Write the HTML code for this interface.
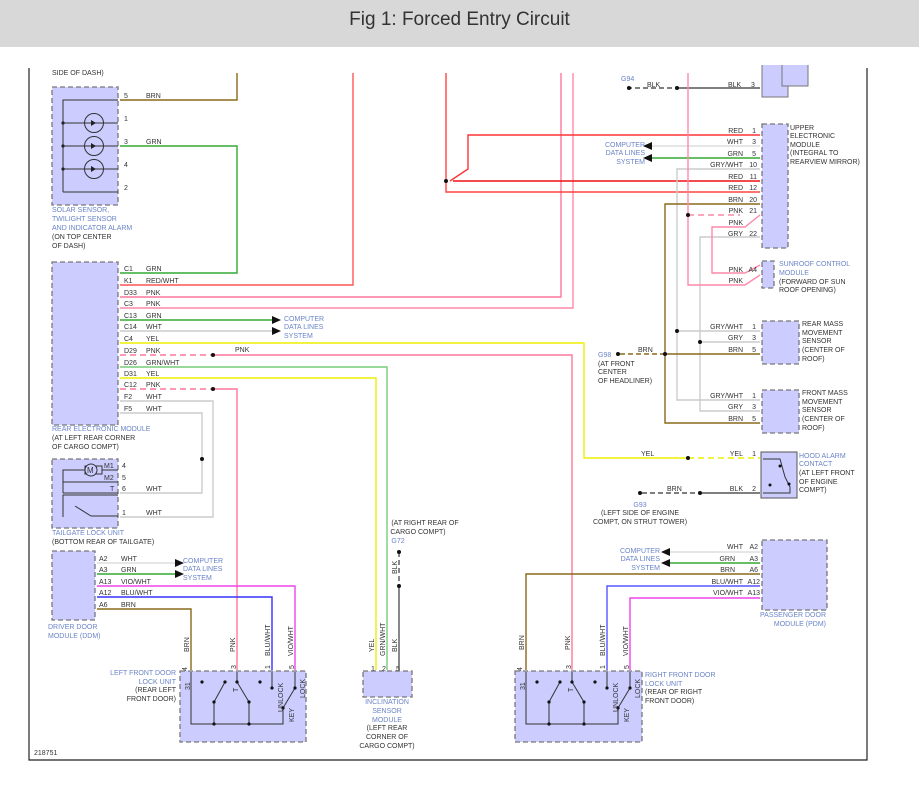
<!DOCTYPE html>
<html><head><meta charset="utf-8"><style>
body{margin:0;background:#fff;width:919px;height:799px;overflow:hidden;font-family:"Liberation Sans",sans-serif}
#hd{position:absolute;left:0;top:0;width:919px;height:47px;background:#d8d8d8;text-align:center;font-size:19px;line-height:40px;color:#333}
svg{position:absolute;left:0;top:0}
text{font-family:"Liberation Sans",sans-serif;font-size:7px;fill:#333}
.b{fill:#6a84c8}
.bx{fill:#ccccff;stroke:#777;stroke-width:1.3;stroke-dasharray:5,3}
</style></head><body>
<div id="hd">Fig 1: Forced Entry Circuit</div>
<svg width="919" height="799" viewBox="0 0 919 799" fill="none">
<!-- frame -->
<path d="M29 68V760H867V68" stroke="#222" stroke-width="1.2"/>
<!-- boxes -->
<rect class="bx" x="52" y="87" width="66" height="118"/>
<rect class="bx" x="52" y="262" width="66" height="163"/>
<rect class="bx" x="52" y="459" width="66" height="69"/>
<rect class="bx" x="52" y="551" width="43" height="69"/>
<rect class="bx" x="180" y="671" width="126" height="71"/>
<rect class="bx" x="363" y="671" width="49" height="26"/>
<rect class="bx" x="515" y="671" width="127" height="71"/>
<rect class="bx" x="762" y="540" width="65" height="70"/>
<rect x="761" y="452" width="36" height="46" fill="#ccccff" stroke="#555" stroke-width="1"/>
<rect class="bx" x="762" y="321" width="37" height="43"/>
<rect class="bx" x="762" y="390" width="37" height="43"/>
<rect class="bx" x="762" y="124" width="26" height="124"/>
<rect class="bx" x="762" y="261" width="12" height="27"/>
<path d="M762 65V97H788V86H808V65" fill="#ccccff" stroke="#777"/>
<path d="M782 65V86H806" stroke="#777"/>

<!-- solar internals -->
<g stroke="#333" stroke-width="1">
<path d="M63 192V100H118M63 123H118M63 146H118M63 169H118M63 192H118"/>
<circle cx="94" cy="123" r="9.5"/><circle cx="94" cy="146" r="9.5"/><circle cx="94" cy="169" r="9.5"/>
</g>
<g fill="#222"><circle cx="63" cy="123" r="1.6"/><circle cx="63" cy="146" r="1.6"/><circle cx="63" cy="169" r="1.6"/>
<path d="M91 120V126L96 123Z M91 143V149L96 146Z M91 166V172L96 169Z"/></g>
<!-- tailgate internals -->
<g stroke="#333" stroke-width="1">
<path d="M63 493V470H85M102 470H118M63 482V482H118M63 482V470"/>
<rect x="85" y="466" width="17" height="8" fill="#ccccff"/>
<circle cx="91" cy="470" r="6" fill="#ccccff"/>
<path d="M63 493H118M63 517V495H118"/>
<path d="M63 505V495M75 506L91 516H118"/>
</g>
<text x="87" y="473" style="font-size:8px">M</text>
<!-- wires solar -->
<g stroke-width="1.4">
<path d="M120 100H237V73" stroke="#8a6a1a"/>
<path d="M120 146H237V273H120" stroke="#3a3"/>
<path d="M120 285H353V73" stroke="#f55"/>
<path d="M120 297H561V73" stroke="#f79"/>
<path d="M120 308H573V73" stroke="#f8a"/>
<path d="M120 320H272" stroke="#3a3"/>
<path d="M120 331H272" stroke="#ccc"/>
<path d="M120 343H584V458H688" stroke="#ee0"/>
<path d="M688 458H760" stroke="#ee0" stroke-dasharray="6,4"/>
<path d="M120 355H213" stroke="#f79" stroke-dasharray="6,4"/>
<path d="M213 355H572V670" stroke="#f79"/>
<path d="M120 367H387V670" stroke="#7c7"/>
<path d="M120 378H376V670" stroke="#ee0"/>
<path d="M120 389H213" stroke="#f79" stroke-dasharray="6,4"/>
<path d="M213 389H237V670" stroke="#f79"/>
<path d="M120 401H213V517H120" stroke="#ccc"/>
<path d="M120 413H202V493H120" stroke="#ccc"/>
<!-- DDM -->
<path d="M97 563H175" stroke="#ddd"/>
<path d="M97 574H175" stroke="#3a3"/>
<path d="M97 586H295V670" stroke="#e4e"/>
<path d="M97 597H272V670" stroke="#33f"/>
<path d="M97 609H191V670" stroke="#8a6a1a"/>
<!-- inclination BLK -->
<path d="M399 552V586" stroke="#555" stroke-dasharray="5,3"/>
<path d="M399 586V670" stroke="#555"/>
<!-- PDM -->
<path d="M760 552H670" stroke="#ddd"/>
<path d="M760 563H670" stroke="#3a3"/>
<path d="M760 574H526V670" stroke="#8a6a1a"/>
<path d="M760 586H607V670" stroke="#55f"/>
<path d="M760 598H630V670" stroke="#e4e"/>
<!-- hood -->
<path d="M642 493H700" stroke="#555" stroke-dasharray="5,3"/>
<path d="M700 493H760" stroke="#555"/>
<!-- upper module -->
<path d="M627 88H677" stroke="#555" stroke-dasharray="5,3"/>
<path d="M677 88H760" stroke="#555"/>
<path d="M760 135H468V169L450 181" stroke="#f33"/>
<path d="M453 181H760" stroke="#e11"/>
<path d="M446 73V192H760" stroke="#f44"/>
<path d="M760 146H652" stroke="#ddd"/>
<path d="M760 158H652" stroke="#3a3"/>
<path d="M760 169H677V400H760M677 331H760" stroke="#ccc"/>
<path d="M760 237H700V411H760M700 342H760" stroke="#ccc"/>
<path d="M760 204H665V423H760M665 354H760" stroke="#8a6a1a"/>
<path d="M620 354H665" stroke="#8a6a1a" stroke-dasharray="5,3"/>
<path d="M688 73V285H745L760 275" stroke="#f8a"/>
<path d="M688 215H740" stroke="#f8a" stroke-dasharray="6,4"/>
<path d="M760 215L745 227H712V273H745L760 265" stroke="#f8a"/>
</g>
<!-- arrows -->
<g fill="#111">
<path d="M272 316L281 320L272 324Z M272 327L281 331L272 335Z"/>
<path d="M175 559L184 563L175 567Z M175 570L184 574L175 578Z"/>
<path d="M652 142L643 146L652 150Z M652 154L643 158L652 162Z"/>
<path d="M670 548L661 552L670 556Z M670 559L661 563L670 567Z"/>
</g>
<!-- dots -->
<g fill="#111">
<circle cx="213" cy="355" r="2"/><circle cx="213" cy="389" r="2"/><circle cx="202" cy="459" r="2"/>
<circle cx="399" cy="552" r="2"/><circle cx="399" cy="586" r="2"/>
<circle cx="446" cy="181" r="2"/><circle cx="677" cy="88" r="2"/><circle cx="629" cy="88" r="2"/><circle cx="688" cy="215" r="2"/>
<circle cx="677" cy="331" r="2"/><circle cx="700" cy="342" r="2"/><circle cx="665" cy="354" r="2"/><circle cx="618" cy="354" r="2"/>
<circle cx="688" cy="458" r="2"/><circle cx="700" cy="493" r="2"/><circle cx="640" cy="493" r="2"/>
</g>
<!-- hood internals -->
<g stroke="#333"><path d="M763 459H780L785 477L790 487V493H763"/></g>
<g fill="#111"><circle cx="780" cy="466" r="1.5"/><circle cx="770" cy="485" r="1.5"/><circle cx="789" cy="484" r="1.5"/></g>
<!-- door lock units -->
<g id="lk" stroke="#333" stroke-width="1">
<path d="M191 672V724H283V708L295 688V672M272 672V688"/>
<path d="M225 682L214 702V724M237 672V682L249 702V724"/>
<g fill="#111" stroke="none"><circle cx="202" cy="682" r="1.6"/><circle cx="260" cy="682" r="1.6"/><circle cx="225" cy="682" r="1.6"/><circle cx="237" cy="682" r="1.6"/><circle cx="214" cy="702" r="1.6"/><circle cx="249" cy="702" r="1.6"/><circle cx="214" cy="724" r="1.6"/><circle cx="249" cy="724" r="1.6"/><circle cx="272" cy="688" r="1.6"/><circle cx="295" cy="688" r="1.6"/><circle cx="283" cy="708" r="1.6"/></g>
<g stroke="none">
<text x="0" y="0" transform="translate(190,690) rotate(-90)">31</text>
<text x="0" y="0" transform="translate(238,692) rotate(-90)">T</text>
<text x="0" y="0" transform="translate(283,712) rotate(-90)">UNLOCK</text>
<text x="0" y="0" transform="translate(305,698) rotate(-90)">LOCK</text>
<text x="0" y="0" transform="translate(294,722) rotate(-90)">KEY</text>
<text x="0" y="0" transform="translate(187,671) rotate(-90)">4</text>
<text x="0" y="0" transform="translate(236,669) rotate(-90)">3</text>
<text x="0" y="0" transform="translate(270,669) rotate(-90)">1</text>
<text x="0" y="0" transform="translate(294,669) rotate(-90)">5</text>
</g>
</g>
<use href="#lk" transform="translate(335,0)"/>
<!-- vertical wire labels -->
<g>
<text transform="translate(189,652) rotate(-90)">BRN</text>
<text transform="translate(235,652) rotate(-90)">PNK</text>
<text transform="translate(270,656) rotate(-90)">BLU/WHT</text>
<text transform="translate(293,656) rotate(-90)">VIO/WHT</text>
<text transform="translate(374,652) rotate(-90)">YEL</text>
<text transform="translate(385,656) rotate(-90)">GRN/WHT</text>
<text transform="translate(397,652) rotate(-90)">BLK</text>
<text transform="translate(397,574) rotate(-90)">BLK</text>
<text transform="translate(524,650) rotate(-90)">BRN</text>
<text transform="translate(570,650) rotate(-90)">PNK</text>
<text transform="translate(605,656) rotate(-90)">BLU/WHT</text>
<text transform="translate(628,656) rotate(-90)">VIO/WHT</text>
<text x="371" y="671">1</text><text x="382" y="671">2</text><text x="396" y="671">5</text>
</g>
<!-- left texts -->
<text x="52" y="75">SIDE OF DASH)</text>
<text x="124" y="98">5</text><text x="146" y="98">BRN</text>
<text x="124" y="121">1</text>
<text x="124" y="144">3</text><text x="146" y="144">GRN</text>
<text x="124" y="167">4</text>
<text x="124" y="190">2</text>
<text class="b" x="52" y="212">SOLAR SENSOR,</text>
<text class="b" x="52" y="221">TWILIGHT SENSOR</text>
<text class="b" x="52" y="230">AND INDICATOR ALARM</text>
<text x="52" y="239">(ON TOP CENTER</text>
<text x="52" y="248">OF DASH)</text>
<g>
<text x="124" y="271">C1</text><text x="146" y="271">GRN</text>
<text x="124" y="283">K1</text><text x="146" y="283">RED/WHT</text>
<text x="124" y="295">D33</text><text x="146" y="295">PNK</text>
<text x="124" y="306">C3</text><text x="146" y="306">PNK</text>
<text x="124" y="318">C13</text><text x="146" y="318">GRN</text>
<text x="124" y="329">C14</text><text x="146" y="329">WHT</text>
<text x="124" y="341">C4</text><text x="146" y="341">YEL</text>
<text x="124" y="353">D29</text><text x="146" y="353">PNK</text><text x="235" y="352">PNK</text>
<text x="124" y="365">D26</text><text x="146" y="365">GRN/WHT</text>
<text x="124" y="376">D31</text><text x="146" y="376">YEL</text>
<text x="124" y="387">C12</text><text x="146" y="387">PNK</text>
<text x="124" y="399">F2</text><text x="146" y="399">WHT</text>
<text x="124" y="411">F5</text><text x="146" y="411">WHT</text>
</g>
<text class="b" x="284" y="321">COMPUTER</text><text class="b" x="284" y="329">DATA LINES</text><text class="b" x="284" y="338">SYSTEM</text>
<text class="b" x="52" y="431">REAR ELECTRONIC MODULE</text>
<text x="52" y="440">(AT LEFT REAR CORNER</text>
<text x="52" y="449">OF CARGO COMPT)</text>
<text x="104" y="468">M1</text><text x="122" y="468">4</text>
<text x="104" y="480">M2</text><text x="122" y="480">5</text>
<text x="110" y="491">T</text><text x="122" y="491">6</text><text x="146" y="491">WHT</text>
<text x="122" y="515">1</text><text x="146" y="515">WHT</text>
<text class="b" x="52" y="535">TAILGATE LOCK UNIT</text>
<text x="52" y="544">(BOTTOM REAR OF TAILGATE)</text>
<text x="99" y="561">A2</text><text x="121" y="561">WHT</text>
<text x="99" y="572">A3</text><text x="121" y="572">GRN</text>
<text x="99" y="584">A13</text><text x="121" y="584">VIO/WHT</text>
<text x="99" y="595">A12</text><text x="121" y="595">BLU/WHT</text>
<text x="99" y="607">A6</text><text x="121" y="607">BRN</text>
<text class="b" x="183" y="563">COMPUTER</text><text class="b" x="183" y="571">DATA LINES</text><text class="b" x="183" y="580">SYSTEM</text>
<text class="b" x="48" y="629">DRIVER DOOR</text><text class="b" x="48" y="638">MODULE (DDM)</text>
<g text-anchor="end">
<text class="b" x="176" y="675">LEFT FRONT DOOR</text>
<text class="b" x="176" y="684">LOCK UNIT</text>
<text x="176" y="692">(REAR LEFT</text>
<text x="176" y="701">FRONT DOOR)</text>
</g>
<g text-anchor="middle">
<text x="425" y="525">(AT RIGHT REAR OF</text>
<text x="418" y="534">CARGO COMPT)</text>
<text class="b" x="398" y="543">G72</text>
<text class="b" x="387" y="704">INCLINATION</text>
<text class="b" x="387" y="713">SENSOR</text>
<text class="b" x="387" y="722">MODULE</text>
<text x="387" y="730">(LEFT REAR</text>
<text x="387" y="739">CORNER OF</text>
<text x="387" y="748">CARGO COMPT)</text>
<text class="b" x="640" y="507">G93</text>
<text x="640" y="515">(LEFT SIDE OF ENGINE</text>
<text x="640" y="524">COMPT, ON STRUT TOWER)</text>
</g>
<text x="34" y="755">218751</text>
<!-- right texts -->
<text class="b" x="621" y="81">G94</text>
<text x="647" y="87">BLK</text><text x="728" y="87">BLK</text><text x="751" y="87">3</text>
<g text-anchor="end">
<text x="743" y="133">RED</text><text x="756" y="133">1</text>
<text x="743" y="144">WHT</text><text x="756" y="144">3</text>
<text x="743" y="156">GRN</text><text x="756" y="156">5</text>
<text x="743" y="167">GRY/WHT</text><text x="757" y="167">10</text>
<text x="743" y="179">RED</text><text x="757" y="179">11</text>
<text x="743" y="190">RED</text><text x="757" y="190">12</text>
<text x="743" y="202">BRN</text><text x="757" y="202">20</text>
<text x="743" y="213">PNK</text><text x="757" y="213">21</text>
<text x="743" y="225">PNK</text>
<text x="743" y="236">GRY</text><text x="757" y="236">22</text>
<text x="743" y="272">PNK</text><text x="757" y="272">A4</text>
<text x="743" y="283">PNK</text>
<text class="b" x="645" y="147">COMPUTER</text><text class="b" x="645" y="155">DATA LINES</text><text class="b" x="645" y="164">SYSTEM</text>
<text x="743" y="329">GRY/WHT</text><text x="756" y="329">1</text>
<text x="743" y="340">GRY</text><text x="756" y="340">3</text>
<text x="743" y="352">BRN</text><text x="756" y="352">5</text>
<text x="743" y="398">GRY/WHT</text><text x="756" y="398">1</text>
<text x="743" y="409">GRY</text><text x="756" y="409">3</text>
<text x="743" y="421">BRN</text><text x="756" y="421">5</text>
<text x="743" y="456">YEL</text><text x="756" y="456">1</text>
<text x="743" y="491">BLK</text><text x="756" y="491">2</text>
<text x="743" y="549">WHT</text><text x="758" y="549">A2</text>
<text x="735" y="561">GRN</text><text x="758" y="561">A3</text>
<text x="735" y="572">BRN</text><text x="758" y="572">A6</text>
<text x="743" y="584">BLU/WHT</text><text x="760" y="584">A12</text>
<text x="743" y="595">VIO/WHT</text><text x="760" y="595">A13</text>
<text class="b" x="660" y="553">COMPUTER</text><text class="b" x="660" y="561">DATA LINES</text><text class="b" x="660" y="570">SYSTEM</text>
<text class="b" x="826" y="617">PASSENGER DOOR</text><text class="b" x="826" y="626">MODULE (PDM)</text>
</g>
<text x="790" y="130">UPPER</text><text x="790" y="138">ELECTRONIC</text><text x="790" y="147">MODULE</text><text x="790" y="155">(INTEGRAL TO</text><text x="790" y="164">REARVIEW MIRROR)</text>
<text class="b" x="779" y="266">SUNROOF CONTROL</text><text class="b" x="779" y="275">MODULE</text><text x="779" y="284">(FORWARD OF SUN</text><text x="779" y="292">ROOF OPENING)</text>
<text x="802" y="326">REAR MASS</text><text x="802" y="335">MOVEMENT</text><text x="802" y="343">SENSOR</text><text x="802" y="352">(CENTER OF</text><text x="802" y="361">ROOF)</text>
<text x="802" y="395">FRONT MASS</text><text x="802" y="404">MOVEMENT</text><text x="802" y="412">SENSOR</text><text x="802" y="421">(CENTER OF</text><text x="802" y="430">ROOF)</text>
<text class="b" x="598" y="357">G98</text><text x="638" y="352">BRN</text>
<text x="598" y="366">(AT FRONT</text><text x="598" y="374">CENTER</text><text x="598" y="383">OF HEADLINER)</text>
<text x="641" y="456">YEL</text><text x="667" y="491">BRN</text>
<text class="b" x="799" y="458">HOOD ALARM</text><text class="b" x="799" y="466">CONTACT</text><text x="799" y="475">(AT LEFT FRONT</text><text x="799" y="484">OF ENGINE</text><text x="799" y="492">COMPT)</text>
<text class="b" x="645" y="677">RIGHT FRONT DOOR</text><text class="b" x="645" y="686">LOCK UNIT</text><text x="645" y="694">(REAR OF RIGHT</text><text x="645" y="703">FRONT DOOR)</text>
</svg>
</body></html>
